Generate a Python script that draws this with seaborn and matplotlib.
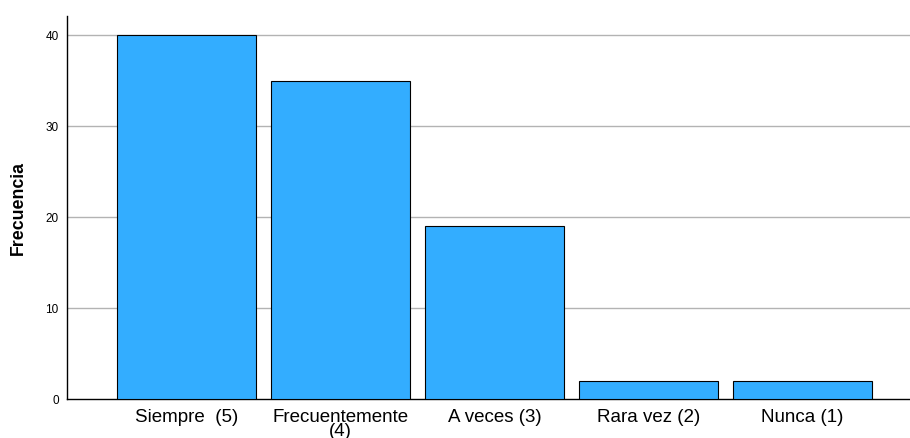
import matplotlib
matplotlib.use("Agg")
import matplotlib.pyplot as plt
import seaborn as sns
import pandas as pd

categories = ["Siempre  (5)", "Frecuentemente\n(4)", "A veces (3)", "Rara vez (2)", "Nunca (1)"]
frecuencias = [40, 35, 19, 2, 2]
y_ticks = [0, 10, 20, 30, 40]

df = pd.DataFrame({"Categoria": categories, "Frecuencia": frecuencias})

sns.set_style("white")
plt.rcParams["font.family"] = ["Liberation Sans", "DejaVu Sans"]
plt.rcParams["text.color"] = "black"
plt.rcParams["axes.labelcolor"] = "black"
plt.rcParams["xtick.color"] = "black"
plt.rcParams["ytick.color"] = "black"

fig = plt.figure(figsize=(9.1, 4.38), dpi=100)
ax = fig.add_axes([0.0736, 0.089, 0.9264, 0.8745])

sns.barplot(data=df, x="Categoria", y="Frecuencia", color="#33adff",
            saturation=1, width=0.9, edgecolor="black", linewidth=0.8,
            ax=ax, zorder=3)

ax.set_ylim(0, 42.1)
ax.set_xlim(-0.776, 4.698)
ax.set_yticks(y_ticks)
ax.set_yticklabels([str(v) for v in y_ticks], fontsize=8.5)
ax.tick_params(axis="y", length=0, pad=6)
ax.tick_params(axis="x", length=0, labelsize=13.5, pad=7)
for t in ax.get_xticklabels():
    t.set_linespacing(0.8)
    t.set_verticalalignment("top")

for v in y_ticks[1:]:
    ax.axhline(v, color="#b3b3b3", linewidth=1, zorder=1)

for side in ["top", "right"]:
    ax.spines[side].set_visible(False)
ax.spines["left"].set_color("black")
ax.spines["bottom"].set_color("black")
ax.spines["left"].set_linewidth(1)
ax.spines["bottom"].set_linewidth(1)

ax.set_xlabel("")
ax.set_ylabel("Frecuencia", fontsize=12.8, fontweight="bold", labelpad=13)

fig.savefig("out.png", dpi=100)
